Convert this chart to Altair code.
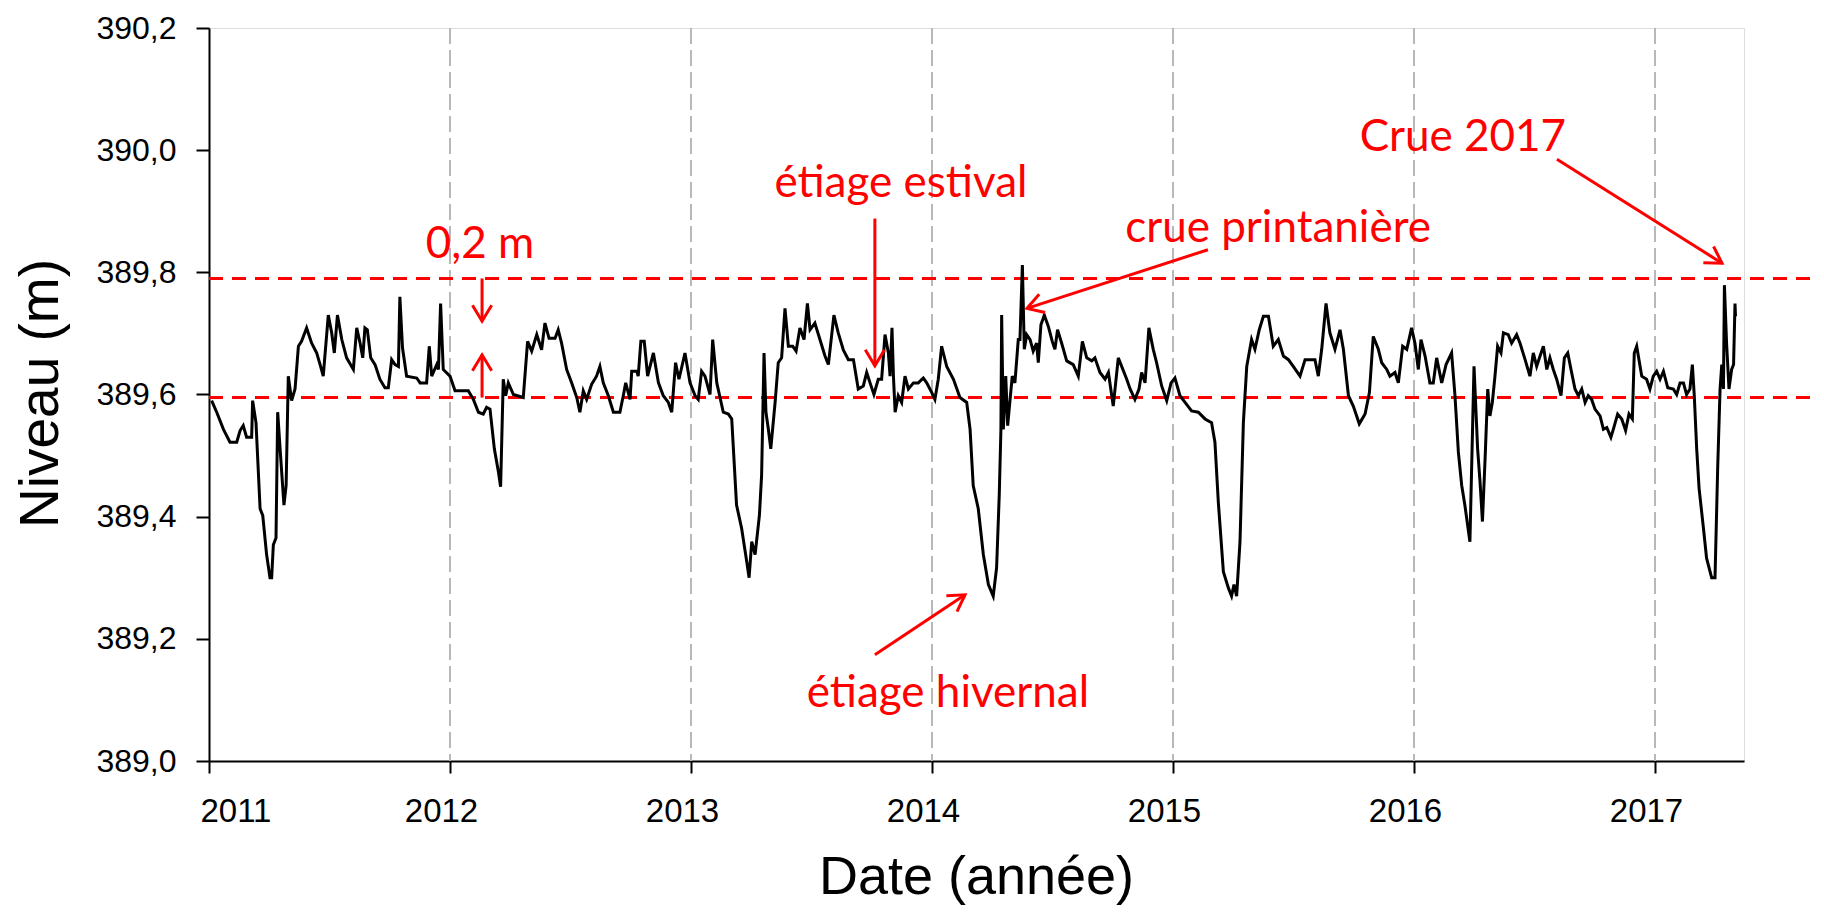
import math
import altair as alt
import pandas as pd

# ---------------- data (decimal year, level in m) ----------------
SEG_2011 = [(2011.011, 389.590), (2011.032, 389.571), (2011.060, 389.543), (2011.087, 389.522), (2011.115, 389.522),
            (2011.129, 389.541), (2011.142, 389.549), (2011.156, 389.530), (2011.177, 389.530), (2011.181, 389.590),
            (2011.195, 389.554), (2011.212, 389.413), (2011.223, 389.402), (2011.239, 389.338), (2011.253, 389.300),
            (2011.260, 389.300), (2011.267, 389.354), (2011.278, 389.365), (2011.285, 389.571), (2011.295, 389.511),
            (2011.311, 389.419), (2011.320, 389.451), (2011.329, 389.630), (2011.343, 389.590), (2011.357, 389.609),
            (2011.371, 389.679), (2011.384, 389.687), (2011.405, 389.709), (2011.426, 389.684), (2011.447, 389.668),
            (2011.461, 389.649), (2011.474, 389.630), (2011.495, 389.730), (2011.509, 389.701), (2011.520, 389.668),
            (2011.533, 389.730), (2011.551, 389.690), (2011.571, 389.660), (2011.599, 389.641), (2011.613, 389.709),
            (2011.627, 389.684), (2011.638, 389.660), (2011.647, 389.709), (2011.657, 389.706), (2011.671, 389.660),
            (2011.689, 389.649), (2011.709, 389.625), (2011.730, 389.611), (2011.744, 389.611), (2011.758, 389.657),
            (2011.772, 389.649), (2011.786, 389.646), (2011.792, 389.760), (2011.803, 389.676), (2011.820, 389.630),
            (2011.862, 389.627), (2011.876, 389.619), (2011.903, 389.619), (2011.914, 389.679), (2011.924, 389.630),
            (2011.945, 389.649), (2011.952, 389.641), (2011.961, 389.749), (2011.972, 389.641), (2012.000, 389.630)]

SEG_2012 = [(2012.021, 389.606), (2012.076, 389.606), (2012.097, 389.592), (2012.118, 389.571), (2012.138, 389.568),
            (2012.152, 389.579), (2012.166, 389.576), (2012.184, 389.511), (2012.201, 389.473), (2012.210, 389.449),
            (2012.221, 389.625), (2012.231, 389.598), (2012.242, 389.619), (2012.263, 389.600), (2012.304, 389.595),
            (2012.322, 389.687), (2012.339, 389.671), (2012.360, 389.698), (2012.380, 389.673), (2012.394, 389.717),
            (2012.411, 389.692), (2012.436, 389.692), (2012.449, 389.706), (2012.463, 389.684), (2012.484, 389.641),
            (2012.505, 389.619), (2012.526, 389.595), (2012.539, 389.571), (2012.553, 389.606), (2012.567, 389.592),
            (2012.588, 389.617), (2012.608, 389.630), (2012.622, 389.646), (2012.636, 389.619), (2012.657, 389.598),
            (2012.678, 389.571), (2012.705, 389.571), (2012.719, 389.598), (2012.729, 389.619), (2012.747, 389.592),
            (2012.754, 389.638), (2012.775, 389.638), (2012.781, 389.630), (2012.792, 389.687), (2012.806, 389.687),
            (2012.820, 389.630), (2012.844, 389.668), (2012.865, 389.619), (2012.885, 389.598), (2012.906, 389.587),
            (2012.920, 389.571), (2012.936, 389.652), (2012.950, 389.625), (2012.975, 389.668), (2012.996, 389.619),
            (2013.017, 389.598), (2013.030, 389.592), (2013.044, 389.638), (2013.058, 389.630), (2013.079, 389.600)]

SEG_2013 = [(2013.090, 389.690), (2013.107, 389.619), (2013.134, 389.571), (2013.155, 389.568), (2013.169, 389.560),
            (2013.189, 389.419), (2013.210, 389.381), (2013.231, 389.327), (2013.241, 389.300), (2013.252, 389.359),
            (2013.266, 389.338), (2013.284, 389.403), (2013.293, 389.468), (2013.303, 389.668), (2013.311, 389.571),
            (2013.321, 389.543), (2013.331, 389.511), (2013.349, 389.587), (2013.362, 389.652), (2013.376, 389.660),
            (2013.390, 389.741), (2013.404, 389.679), (2013.422, 389.679), (2013.436, 389.671), (2013.452, 389.709),
            (2013.469, 389.690), (2013.483, 389.749), (2013.494, 389.706), (2013.514, 389.717), (2013.535, 389.690),
            (2013.556, 389.663), (2013.570, 389.649), (2013.593, 389.730), (2013.611, 389.701), (2013.632, 389.673),
            (2013.653, 389.657), (2013.674, 389.657), (2013.694, 389.609), (2013.715, 389.614), (2013.729, 389.636),
            (2013.743, 389.619), (2013.759, 389.600), (2013.777, 389.625), (2013.791, 389.625), (2013.805, 389.698),
            (2013.819, 389.668), (2013.826, 389.630), (2013.834, 389.709), (2013.840, 389.630), (2013.847, 389.571),
            (2013.860, 389.598), (2013.874, 389.587), (2013.888, 389.630), (2013.902, 389.609), (2013.923, 389.619),
            (2013.943, 389.619), (2013.964, 389.627), (2013.978, 389.619), (2013.999, 389.603), (2014.012, 389.592),
            (2014.026, 389.625), (2014.040, 389.679), (2014.061, 389.646), (2014.089, 389.625), (2014.116, 389.595),
            (2014.144, 389.587)]

SEG_2014 = [(2014.158, 389.543), (2014.171, 389.451), (2014.192, 389.413), (2014.213, 389.338), (2014.234, 389.289),
            (2014.254, 389.270), (2014.268, 389.316), (2014.279, 389.435), (2014.286, 389.543), (2014.289, 389.730),
            (2014.296, 389.543), (2014.306, 389.630), (2014.314, 389.549), (2014.324, 389.592), (2014.333, 389.630),
            (2014.344, 389.619), (2014.358, 389.690), (2014.365, 389.690), (2014.375, 389.812), (2014.383, 389.674),
            (2014.393, 389.698), (2014.407, 389.690), (2014.420, 389.671), (2014.434, 389.684), (2014.441, 389.652),
            (2014.452, 389.714), (2014.466, 389.730), (2014.483, 389.711), (2014.499, 389.687), (2014.510, 389.674),
            (2014.521, 389.706), (2014.538, 389.684), (2014.559, 389.655), (2014.586, 389.649), (2014.607, 389.630),
            (2014.624, 389.687), (2014.642, 389.660), (2014.663, 389.655), (2014.676, 389.660), (2014.697, 389.636),
            (2014.718, 389.625), (2014.732, 389.636), (2014.752, 389.581), (2014.773, 389.660), (2014.787, 389.646),
            (2014.808, 389.625), (2014.822, 389.609), (2014.842, 389.592), (2014.859, 389.609), (2014.870, 389.636),
            (2014.884, 389.619), (2014.900, 389.709), (2014.918, 389.674), (2014.932, 389.652), (2014.953, 389.614),
            (2014.974, 389.590), (2014.992, 389.619), (2015.008, 389.627), (2015.029, 389.598), (2015.050, 389.587),
            (2015.077, 389.573), (2015.105, 389.571), (2015.133, 389.560), (2015.160, 389.554), (2015.174, 389.522),
            (2015.188, 389.424)]

SEG_2015 = [(2015.209, 389.310), (2015.230, 389.283), (2015.243, 389.270), (2015.253, 389.289), (2015.264, 389.270),
            (2015.278, 389.359), (2015.292, 389.554), (2015.306, 389.646), (2015.326, 389.690), (2015.340, 389.674),
            (2015.358, 389.706), (2015.375, 389.728), (2015.396, 389.728), (2015.416, 389.679), (2015.437, 389.690),
            (2015.458, 389.663), (2015.479, 389.657), (2015.499, 389.646), (2015.527, 389.630), (2015.548, 389.657),
            (2015.568, 389.657), (2015.589, 389.657), (2015.603, 389.630), (2015.617, 389.674), (2015.635, 389.749),
            (2015.651, 389.701), (2015.672, 389.674), (2015.693, 389.706), (2015.707, 389.674), (2015.728, 389.598),
            (2015.748, 389.581), (2015.773, 389.552), (2015.797, 389.568), (2015.815, 389.603), (2015.831, 389.695),
            (2015.852, 389.674), (2015.866, 389.652), (2015.887, 389.641), (2015.900, 389.630), (2015.921, 389.636),
            (2015.935, 389.619), (2015.953, 389.679), (2015.970, 389.674), (2015.990, 389.709), (2016.004, 389.684),
            (2016.018, 389.641), (2016.029, 389.690), (2016.046, 389.663), (2016.066, 389.619), (2016.080, 389.619),
            (2016.094, 389.660), (2016.115, 389.619), (2016.133, 389.649), (2016.156, 389.668), (2016.170, 389.598),
            (2016.184, 389.506), (2016.198, 389.451), (2016.211, 389.419), (2016.232, 389.359), (2016.249, 389.646)]

SEG_2016 = [(2016.264, 389.511), (2016.274, 389.457), (2016.284, 389.392), (2016.295, 389.495), (2016.306, 389.609),
            (2016.315, 389.565), (2016.325, 389.587), (2016.336, 389.630), (2016.347, 389.679), (2016.361, 389.668),
            (2016.371, 389.701), (2016.391, 389.698), (2016.405, 389.684), (2016.426, 389.698), (2016.440, 389.684),
            (2016.461, 389.657), (2016.481, 389.630), (2016.495, 389.668), (2016.509, 389.646), (2016.523, 389.663),
            (2016.537, 389.679), (2016.551, 389.641), (2016.564, 389.660), (2016.578, 389.641), (2016.592, 389.625),
            (2016.610, 389.598), (2016.624, 389.660), (2016.638, 389.668), (2016.654, 389.636), (2016.668, 389.609),
            (2016.682, 389.598), (2016.696, 389.609), (2016.710, 389.587), (2016.723, 389.598), (2016.737, 389.592),
            (2016.751, 389.576), (2016.772, 389.565), (2016.786, 389.543), (2016.800, 389.546), (2016.817, 389.530),
            (2016.827, 389.543), (2016.845, 389.568), (2016.862, 389.560), (2016.878, 389.541), (2016.892, 389.568),
            (2016.906, 389.560), (2016.914, 389.668), (2016.924, 389.679), (2016.945, 389.630), (2016.965, 389.625),
            (2016.979, 389.609), (2016.993, 389.630), (2017.007, 389.638), (2017.021, 389.625), (2017.035, 389.638),
            (2017.053, 389.611), (2017.076, 389.609), (2017.090, 389.600), (2017.104, 389.619), (2017.118, 389.619),
            (2017.131, 389.600), (2017.145, 389.609), (2017.155, 389.649), (2017.163, 389.598), (2017.173, 389.511),
            (2017.183, 389.446), (2017.201, 389.381), (2017.214, 389.332), (2017.235, 389.300), (2017.249, 389.300),
            (2017.260, 389.478), (2017.270, 389.609), (2017.277, 389.649), (2017.284, 389.609), (2017.288, 389.779),
            (2017.297, 389.684), (2017.307, 389.609), (2017.318, 389.641), (2017.326, 389.649), (2017.332, 389.749),
            (2017.334, 389.728)]

YEAR_TICKS = [2011, 2012, 2013, 2014, 2015, 2016, 2017]
GRID_YEARS = [2012, 2013, 2014, 2015, 2016, 2017]
LEVEL_TICKS = [389.0, 389.2, 389.4, 389.6, 389.8, 390.0, 390.2]
REF_LEVELS = [389.595, 389.79]

# annotation texts: (label, year, level at baseline)
LABELS = [("0,2 m", 2012.124, 389.823),
          ("étiage estival", 2013.871, 389.924),
          ("crue printanière", 2015.436, 389.850),
          ("Crue 2017", 2016.203, 389.998),
          ("étiage hivernal", 2014.066, 389.088)]

# arrows: (start year, start level, tip year, tip level)
ARROWS = [(2012.133, 389.790, 2012.133, 389.720),
          (2012.133, 389.595, 2012.133, 389.665),
          (2013.763, 389.888, 2013.763, 389.647),
          (2015.145, 389.837, 2014.394, 389.741),
          (2016.593, 389.985, 2017.278, 389.815),
          (2013.763, 389.174, 2014.137, 389.272)]

# ---------------- layout ----------------
W, H = 1535, 733
X_MIN, X_MAX = 2011.0, 2011.0 + 1535 / 241.0
Y_MIN, Y_MAX = 389.0, 390.2
PX_YEAR = W / (X_MAX - X_MIN)
PX_M = H / (Y_MAX - Y_MIN)

rows = []
for seg in (SEG_2011, SEG_2012, SEG_2013, SEG_2014, SEG_2015, SEG_2016):
    for yr, lv in seg:
        rows.append({"year": yr, "level": lv})
df = pd.DataFrame(rows)

arrow_df = pd.DataFrame([
    {"x": a, "y": b, "x2": c, "y2": d,
     "angle": math.degrees(math.atan2((c - a) * PX_YEAR, (d - b) * PX_M)) % 360}
    for a, b, c, d in ARROWS
])
label_df = pd.DataFrame([{"text": t, "x": x, "y": y} for t, x, y in LABELS])
grid_df = pd.DataFrame({"year": GRID_YEARS})
ref_df = pd.DataFrame({"level": REF_LEVELS})

xscale = alt.Scale(domain=[X_MIN, X_MAX], nice=False, zero=False)
yscale = alt.Scale(domain=[Y_MIN, Y_MAX], nice=False, zero=False)

AXIS_FONT = "Liberation Sans"
ANN_FONT = "Lato"
RED = "#ff0000"

x_axis = alt.Axis(values=YEAR_TICKS, format="d", grid=False, tickSize=12, tickWidth=2,
                  tickColor="black", domainColor="black", domainWidth=2,
                  labelFont=AXIS_FONT, labelFontSize=33, labelColor="black",
                  labelPadding=22, labelOffset=-9,
                  title="Date (année)", titleFont=AXIS_FONT, titleFontSize=54,
                  titleFontWeight="normal", titleColor="black",
                  titleX=767, titleY=132, titleBaseline="alphabetic", titleAlign="center")
y_axis = alt.Axis(values=LEVEL_TICKS, grid=False, tickSize=13, tickWidth=2,
                  tickColor="black", domainColor="black", domainWidth=2,
                  labelExpr="replace(format(datum.value, '.1f'), '.', ',')",
                  labelFont=AXIS_FONT, labelFontSize=32, labelColor="black", labelPadding=20,
                  title="Niveau (m)", titleFont=AXIS_FONT, titleFontSize=55,
                  titleFontWeight="normal", titleColor="black",
                  titleX=-152, titleY=365, titleAngle=270, titleBaseline="alphabetic",
                  titleAlign="center")

grid = alt.Chart(grid_df).mark_rule(color="#b8b8b8", strokeWidth=2, strokeDash=[16, 6]).encode(
    x=alt.X("year:Q", scale=xscale, axis=x_axis)
)

refs = alt.Chart(ref_df).mark_rule(color=RED, strokeWidth=3, strokeDash=[14, 9], clip=False).encode(
    y=alt.Y("level:Q", scale=yscale, axis=y_axis),
    x=alt.value(0),
    x2=alt.value(W + 70),
)

line = alt.Chart(df).mark_line(color="black", strokeWidth=3).encode(
    x=alt.X("year:Q", scale=xscale),
    y=alt.Y("level:Q", scale=yscale),
)

arrow_lines = alt.Chart(arrow_df).mark_rule(color=RED, strokeWidth=3).encode(
    x=alt.X("x:Q", scale=xscale), x2="x2:Q",
    y=alt.Y("y:Q", scale=yscale), y2="y2:Q",
)

arrow_heads = alt.Chart(arrow_df).mark_point(
    shape="M -0.6 1 L 0 0 L 0.6 1", filled=False, color=RED, strokeWidth=3, size=1024, opacity=1
).encode(
    x=alt.X("x2:Q", scale=xscale),
    y=alt.Y("y2:Q", scale=yscale),
    angle=alt.Angle("angle:Q", scale=None),
)

texts = alt.Chart(label_df).mark_text(
    font=ANN_FONT, fontSize=44, color=RED, align="center", baseline="alphabetic"
).encode(
    x=alt.X("x:Q", scale=xscale),
    y=alt.Y("y:Q", scale=yscale),
    text="text:N",
)

chart = alt.layer(grid, refs, line, arrow_lines, arrow_heads, texts).properties(
    width=W, height=H,
    autosize=alt.AutoSizeParams(type="none"),
    padding={"left": 201, "top": 20, "right": 70, "bottom": 144},
).configure_view(stroke="black", strokeWidth=2).configure(background="white")

chart.save("out.html", embed_options={"renderer": "svg", "actions": False})
